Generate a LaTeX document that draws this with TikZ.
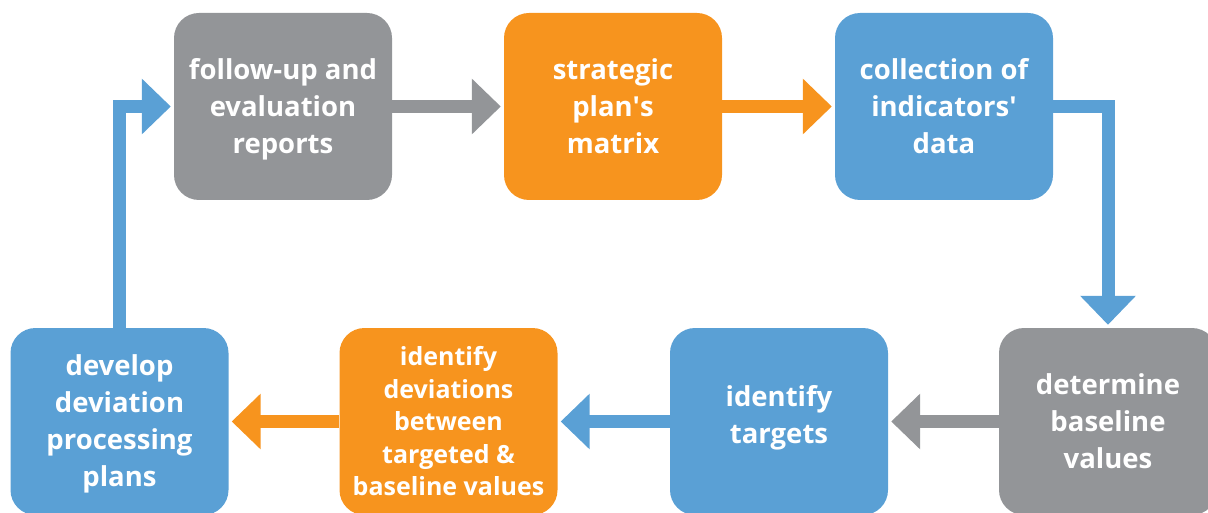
\documentclass[tikz,border=0pt]{standalone}
\usepackage{fontspec}
\setmainfont{Open Sans}
\usetikzlibrary{arrows.meta}
\definecolor{cyclegray}{RGB}{147,149,152}
\definecolor{cycleorange}{RGB}{247,148,30}
\definecolor{cycleblue}{RGB}{90,160,213}

\begin{document}
\begin{tikzpicture}[x=1pt,y=-1pt,
    stage/.style={rounded corners=25pt, minimum width=218pt, minimum height=187pt,
      inner sep=0pt, align=center, text=white, text depth=1pt,
      execute at begin node=\rule{0pt}{27pt},
      font=\bfseries\fontsize{27.5}{37}\selectfont},
    flow/.style={line width=13pt, -{Triangle[length=29pt,width=54pt]}, shorten >=3pt}]
			%%%%% START %%%%%
			\useasboundingbox (0,0) rectangle (1208,513);
			
			% top row
			\node[stage, fill=cyclegray] (followup) at (283,106.5) {follow-up and\\evaluation\\reports};
			\node[stage, fill=cycleorange] (matrix) at (613,106.5) {strategic\\plan\textquotesingle s\\matrix};
			\node[stage, fill=cycleblue] (collect) at (944,106.5) {collection of\\indicators\textquotesingle\\data};
			
			% bottom row
			\node[stage, fill=cycleblue] (develop) at (119.5,421.5) {develop\\deviation\\processing\\plans};
			\node[stage, fill=cycleorange, font=\bfseries\fontsize{25}{32.5}\selectfont] (deviate) at (448.5,421.5) {identify\\deviations\\between\\targeted \&\\baseline values};
			\node[stage, fill=cycleblue, text depth=14pt] (targets) at (779,421.5) {identify\\targets};
			\node[stage, fill=cyclegray] (baseline) at (1108,421.5) {determine\\baseline\\values};
			
			% connectors
			\draw[flow, cyclegray] (followup) -- (matrix);
			\draw[flow, cycleorange] (matrix) -- (collect);
			\draw[flow, cycleblue] (collect.east) -| (baseline.north);
			\draw[flow, cyclegray] (baseline) -- (targets);
			\draw[flow, cycleblue] (targets) -- (deviate);
			\draw[flow, cycleorange] (deviate) -- (develop);
			\draw[flow, cycleblue] (develop.north) |- (followup.west);
			
			%%%%% END %%%%%
\end{tikzpicture}
\end{document}
